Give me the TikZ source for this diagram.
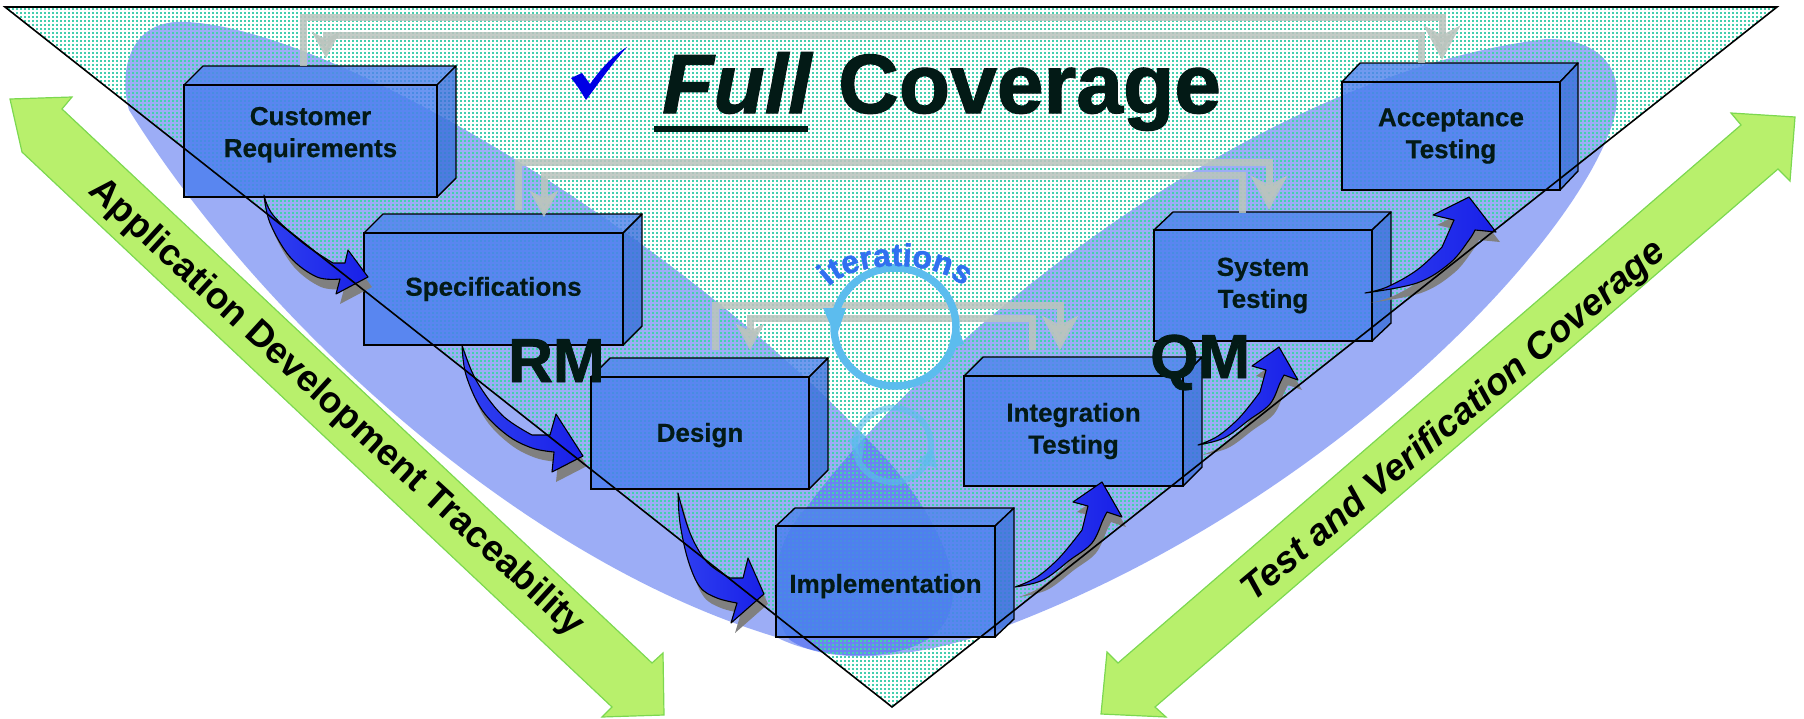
\documentclass[tikz,border=0pt]{standalone}
\usepackage{fontspec}
\setmainfont{Liberation Sans}
\newfontfamily\fbold[FakeBold=1.3]{Liberation Sans Bold}
\newfontfamily\fboldit[FakeBold=1.3]{Liberation Sans Bold Italic}
\newfontfamily\mbold[FakeBold=.5]{Liberation Sans Bold}
\usetikzlibrary{arrows.meta,calc,patterns,decorations.text,shadings}
\definecolor{trifill}{HTML}{44CFAE}
\definecolor{ell}{HTML}{3A5CEE}
\definecolor{boxf}{HTML}{4A7EEE}
\definecolor{boxt}{HTML}{5084EC}
\definecolor{boxs}{HTML}{3C70DC}
\definecolor{conn}{HTML}{BBC4BE}
\definecolor{ring}{HTML}{5CBCEE}
\definecolor{itc}{HTML}{3070F0}
\definecolor{gr}{HTML}{B8F06C}
\definecolor{gre}{HTML}{7CD850}
\definecolor{dk}{HTML}{031A16}
\definecolor{swa}{HTML}{3040F0}
\definecolor{swb}{HTML}{7080FF}
\definecolor{swc}{HTML}{1820E8}
\pgfdeclarepatternformonly{dith}{\pgfqpoint{0pt}{0pt}}{\pgfqpoint{2pt}{2pt}}{\pgfqpoint{4pt}{4pt}}{\pgfpathrectangle{\pgfqpoint{0pt}{0pt}}{\pgfqpoint{2pt}{2pt}}\pgfusepath{fill}}
\tikzset{
 frontbox/.style={draw=black,line width=1.4pt,fill=boxf,fill opacity=.82,text opacity=1,outer sep=0pt,inner sep=0pt,align=center,font=\fontsize{26}{32}\selectfont\mbold,text=dk},
 boxside/.style={draw=black,line width=1.4pt,fill=boxs,fill opacity=.82,line join=round},
 boxtop/.style={draw=black,line width=1.4pt,fill=boxt,fill opacity=.82,line join=round},
 grayconn/.style={draw=conn,line width=7pt,line join=miter,opacity=.88},
 bigtip/.style={-{Stealth[length=34pt,width=36pt,inset=9pt]}},
 smalltip/.style={-{Stealth[length=26pt,width=28pt,inset=7pt]}},
 swshadow/.style={fill=black!50},
 swbody/.style={draw=black,line width=1.1pt,left color=swa,middle color=swb,right color=swc,line join=round},
 bigtext/.style={anchor=base west,inner sep=0pt,text=dk,font=\fontsize{84}{84}\selectfont\fbold},
 rmtext/.style={anchor=base west,inner sep=0pt,text=dk,font=\fontsize{62}{62}\selectfont\fbold},
 greenarrow/.style={fill=gr,draw=gre,line width=1.2pt,line join=miter},
 greentext/.style={inner sep=0pt,text=black,font=\fontsize{37}{37}\selectfont\bfseries},
 ringline/.style={draw=ring,line width=7.5pt},
}
\newcommand{\myBox}[8]{%
 \draw[boxtop] (#2,#3) -- (#2+#6,#3-#7) -- (#4+#6,#3-#7) -- (#4,#3) -- cycle;
 \draw[boxside] (#4,#3) -- (#4+#6,#3-#7) -- (#4+#6,#5-#7) -- (#4,#5) -- cycle;
 \node[frontbox,minimum width=#4pt-#2pt,minimum height=#5pt-#3pt] (#1) at ({(#2+#4)/2},{(#3+#5)/2}) {#8};
}
\newcommand{\swoosh}[2]{%
 \begin{scope}[shift={(#1)}]
 \fill[swshadow,shift={(4,10)}] #2;
 \draw[swbody] #2;
 \end{scope}}
\begin{document}
\begin{tikzpicture}[x=1pt,y=-1pt]
\useasboundingbox (0,0) rectangle (1804,718);
% green arrows
\draw[greenarrow] (10,99) -- (72,97) -- (62,109) -- (652,663) -- (663,653) -- (664,715) -- (602,717) -- (612,707) -- (22,152) -- cycle;
\draw[greenarrow] (1795,117) -- (1731,113) -- (1741,125) -- (1118,663) -- (1107,652) -- (1101,714) -- (1166,717) -- (1155,707) -- (1778,169) -- (1790,181) -- cycle;
\node[greentext,rotate=-42.5] (lblL) at (336,408) {Application Development Traceability};
\node[greentext,rotate=40,font=\fontsize{37}{37}\selectfont\bfseries\itshape] (lblR) at (1454,422) {Test and Verification Coverage};
% ellipses
\fill[ell,fill opacity=.5] (187,22) .. controls (340,30) and (680,240) .. (868,440) .. controls (925,495) and (965,570) .. (950,610) .. controls (935,665) and (830,665) .. (776,637) .. controls (520,560) and (260,320) .. (129,110) .. controls (118,70) and (130,18) .. (187,22) -- cycle;
\fill[ell,fill opacity=.5] (1546,39) .. controls (1600,38) and (1630,70) .. (1612,125) .. controls (1570,250) and (1330,500) .. (1014,623) .. controls (930,658) and (830,668) .. (790,640) .. controls (765,610) and (770,545) .. (807,507) .. controls (930,340) and (1250,75) .. (1546,39) -- cycle;
% dotted triangle
\fill[pattern=dith,pattern color=trifill] (5,7) -- (1777,7) -- (892,707) -- cycle;
% boxes
\myBox{cr}{184}{85}{437}{197}{19}{19}{Customer\\Requirements\\[-14pt]\mbox{}}
\myBox{sp}{364}{233}{623}{345}{19}{19}{Specifications}
\myBox{de}{591}{377}{809}{489}{19}{19}{\rule{0pt}{23pt}Design}
\myBox{im}{776}{526}{995}{637}{19}{18}{\rule{0pt}{28pt}Implementation}
\myBox{it}{964}{376}{1183}{486}{19}{19}{Integration\\Testing}
\myBox{sy}{1154}{230}{1372}{341}{19}{18}{System\\Testing}
\myBox{ac}{1342}{82}{1560}{190}{18}{19}{Acceptance\\Testing}
% gray connectors
\coordinate (a1) at ([shift={(119pt,19pt)}]cr.north west);
\coordinate (b1) at ([shift={(100pt,22pt)}]ac.north west);
\coordinate (a2) at ([shift={(79pt,19pt)}]ac.north west);
\coordinate (b2) at ([shift={(142pt,27pt)}]cr.north west);
\coordinate (a3) at ([shift={(154pt,23pt)}]sp.north west);
\coordinate (b3) at ([shift={(115pt,20pt)}]sy.north west);
\coordinate (a4) at ([shift={(88pt,17pt)}]sy.north west);
\coordinate (b4) at ([shift={(180pt,16pt)}]sp.north west);
\coordinate (a5) at ([shift={(124pt,27pt)}]de.north west);
\coordinate (b5) at ([shift={(96pt,26pt)}]it.north west);
\coordinate (a6) at ([shift={(68pt,26pt)}]it.north west);
\coordinate (b6) at ([shift={(159pt,27pt)}]de.north west);
\draw[grayconn,bigtip] (a1) -- (a1 |- 0,17) -| (b1);
\draw[grayconn,smalltip] (a2) -- (a2 |- 0,35) -| (b2);
\draw[grayconn,bigtip] (a3) -- (a3 |- 0,162) -| (b3);
\draw[grayconn,smalltip] (a4) -- (a4 |- 0,175) -| (b4);
\draw[grayconn,bigtip] (a5) -- (a5 |- 0,305) -| (b5);
\draw[grayconn,smalltip] (a6) -- (a6 |- 0,318) -| (b6);
% iterations
\draw[ringline] (895,327) ellipse [x radius=61,y radius=59];
\fill[ring] (823,308) -- (846,308) -- (836,338) -- cycle;
\fill[ring] (948,350) -- (964,344) -- (955,320) -- cycle;
\path[decorate,decoration={text along path,text align=center,text={|\fontsize{32}{32}\selectfont\fbold\color{itc}|iterations}}] (826,290) .. controls (850,258) and (942,258) .. (966,290);
\draw[draw=ring,line width=6pt,opacity=.6] (893,445) ellipse [x radius=38,y radius=37];
\fill[ring,opacity=.6] (848,440) -- (866,432) -- (862,460) -- cycle;
\fill[ring,opacity=.6] (933,448) -- (916,462) -- (937,468) -- cycle;
% swooshes
\coordinate (t1) at (264,195);
\coordinate (t2) at (462,345);
\coordinate (t3) at (678,493);
\coordinate (t4) at (1015,587);
\coordinate (t5) at (1198,445);
\coordinate (t6) at (1365,293);
\swoosh{t1}{plot[smooth,tension=.6] coordinates {(0,0) (6,28) (26,62) (53,82) (76,84)} -- (72,99) -- (104,82) -- (84,55) -- (81,68) -- plot[smooth,tension=.6] coordinates {(69,68) (39,48) (9,20) (0,0)} -- cycle}
\swoosh{t2}{plot[smooth,tension=.6] coordinates {(0,0) (4,30) (20,65) (45,90) (70,103) (92,107)} -- (90,127) -- (121,111) -- (94,69) -- (88,90) -- plot[smooth,tension=.6] coordinates {(70,90) (40,70) (14,35) (0,0)} -- cycle}
\swoosh{t3}{plot[smooth,tension=.6] coordinates {(0,0) (2,30) (10,67) (22,94) (39,105) (59,110)} -- (53,130) -- (86,101) -- (70,65) -- (65,85) -- plot[smooth,tension=.6] coordinates {(52,85) (29,69) (12,40) (0,0)} -- cycle}
\swoosh{t4}{plot[smooth,tension=.6] coordinates {(0,0) (28,-7) (55,-27) (77,-44) (88,-67) (92,-75)} -- (107,-70) -- (87,-105) -- (58,-85) -- (73,-81) -- plot[smooth,tension=.6] coordinates {(67,-57) (45,-30) (22,-10) (0,0)} -- cycle}
\swoosh{t5}{plot[smooth,tension=.6] coordinates {(0,0) (26,-7) (51,-25) (72,-41) (82,-62) (86,-70)} -- (100,-65) -- (81,-98) -- (54,-79) -- (68,-75) -- plot[smooth,tension=.6] coordinates {(62,-53) (42,-28) (20,-9) (0,0)} -- cycle}
\swoosh{t6}{plot[smooth,tension=.6] coordinates {(0,0) (52,-10) (85,-30) (104,-53) (110,-63)} -- (131,-61) -- (104,-96) -- (68,-78) -- (89,-73) -- plot[smooth,tension=.6] coordinates {(77,-46) (52,-23) (22,-6) (0,0)} -- cycle}
% big texts
\fill[fill=blue!90!black] (571,78) -- (582,73) -- (590,84) .. controls (600,70) and (612,56) .. (627,47) .. controls (612,64) and (598,84) .. (586,100) .. controls (581,92) and (577,85) .. (571,78) -- cycle;
\node[bigtext,font=\fontsize{84}{84}\selectfont\fboldit] (full) at (662,113) {Full};
\node[bigtext] (cov) at (838,113) {Coverage};
\draw[dk,line width=6pt] (654,129) -- (808,129);
\node[rmtext] (rm) at (508,382) {RM};
\node[rmtext] (qm) at (1150,378) {QM};
% outline
\draw[black,line width=1.6pt,line join=miter] (5,7) -- (1777,7) -- (892,707) -- cycle;
\end{tikzpicture}
\end{document}
